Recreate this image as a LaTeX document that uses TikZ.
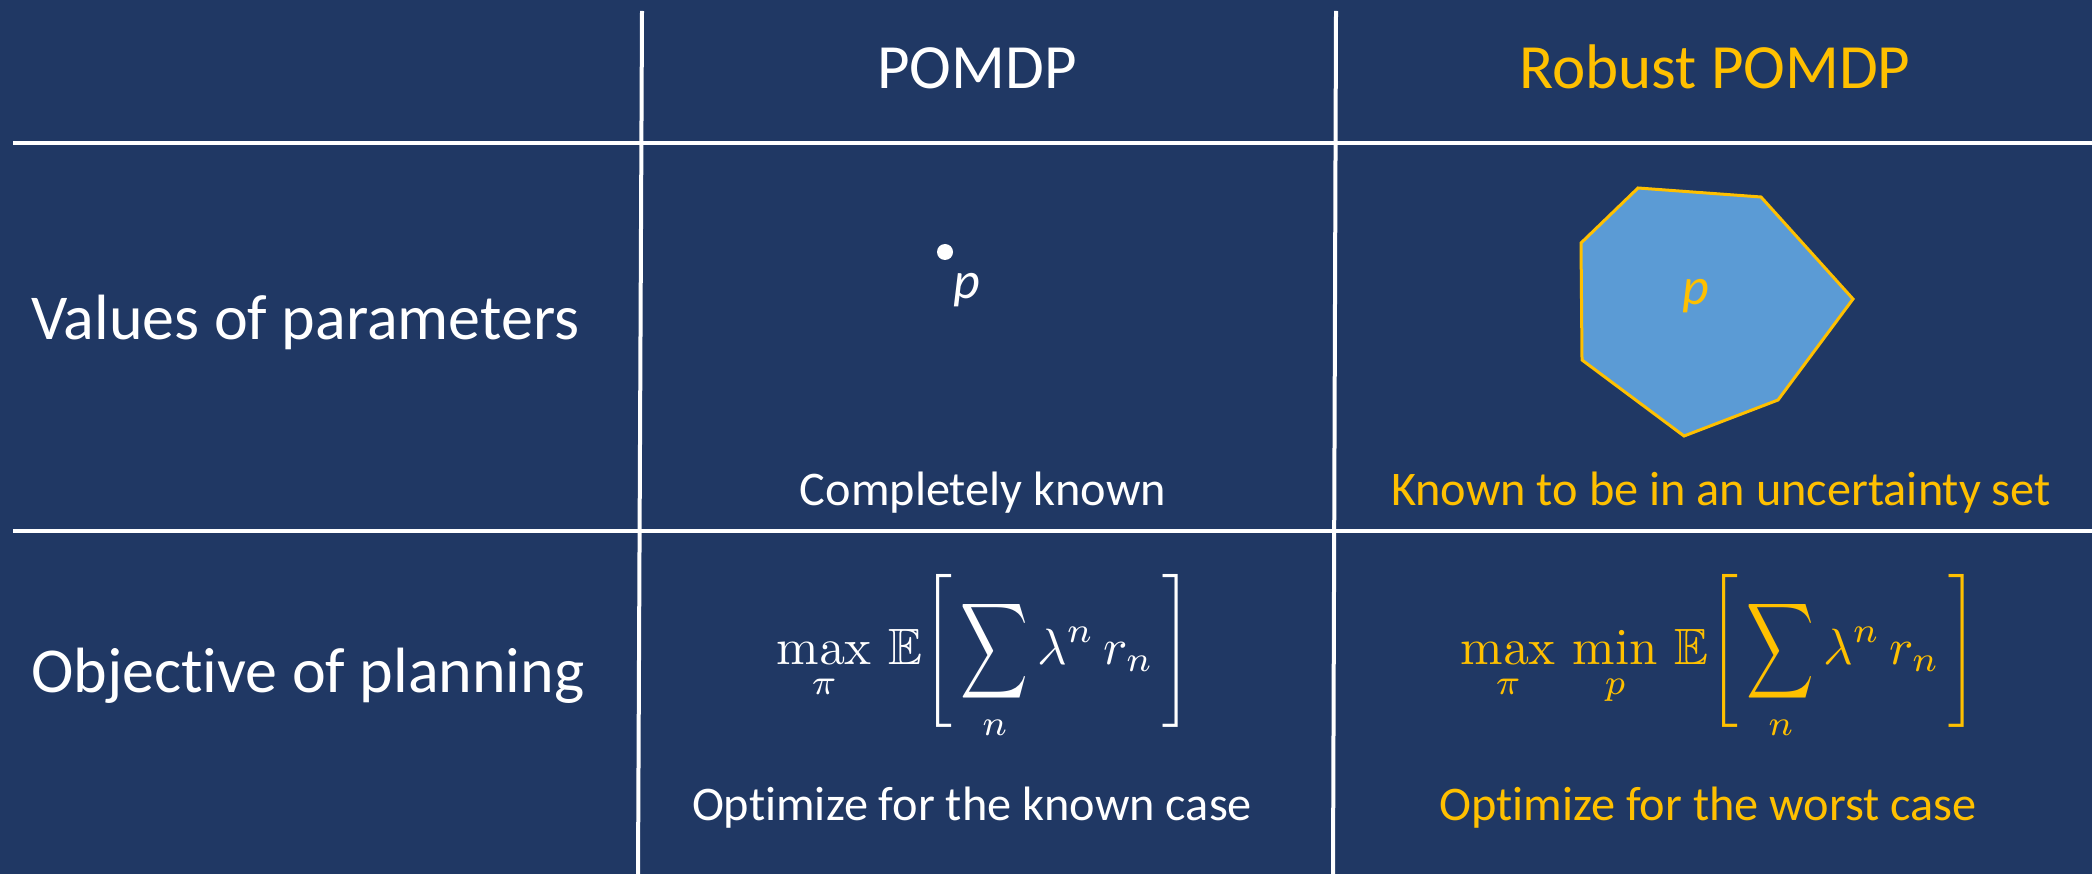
\documentclass[tikz,border=0pt]{standalone}
\usepackage{amsmath,amssymb}
\usepackage{graphicx}
\usepackage[no-math]{fontspec}
\setmainfont{Carlito}[Ligatures=NoCommon]
\definecolor{bg}{RGB}{32,56,100}
\definecolor{gold}{RGB}{255,192,0}
\definecolor{polyblue}{RGB}{91,155,213}
\newcommand{\tallsum}{\mathop{\vcenter{\hbox{\scalebox{0.92}[1.31]{$\displaystyle\sum$}}}}\displaylimits}
\tikzset{
  grid line/.style={draw=white, line width=4pt},
  headtext/.style={text=white, font=\fontsize{63}{74}\selectfont, inner sep=0pt, anchor=base},
  rowtext/.style={text=white, font=\fontsize{64}{76}\selectfont, inner sep=0pt, anchor=base west},
  celltext/.style={text=white, font=\fontsize{48.3}{58}\selectfont, inner sep=0pt, anchor=base},
  ptext/.style={text=white, font=\fontsize{52}{62}\selectfont, inner sep=0pt, anchor=base},
  formula/.style={text=white, inner sep=0pt, anchor=base},
  goldtext/.style={text=gold}
}
\begin{document}
\begin{tikzpicture}[x=1pt,y=-1pt]
\fill[bg] (0,0) rectangle (2092,874);
\useasboundingbox (0,0) rectangle (2092,874);
% grid
\draw[grid line] (13,143) -- (2092,143);
\draw[grid line] (13,531) -- (2092,531);
\draw[grid line] (642,11) -- (638,874);
\draw[grid line] (1336,11) -- (1333,874);
% headers
\node[headtext] (h1) at (977,89) {POMDP};
\node[headtext,goldtext] (h2) at (1715,89) {Robust POMDP};
\node[rowtext] (r1) at (31,340) {Values of parameters};
\node[rowtext] (r2) at (31,692) {Objective of planning};
% POMDP values
\fill[white] (945,252) circle (8);
\node[ptext] (p1) at (967,299) {\itshape p};
\node[celltext] (c1) at (983,505) {Completely known};
% robust values
\path[fill=polyblue, draw=gold, line width=3pt, line join=miter]
  (1638,188) -- (1761,197) -- (1853,299) -- (1778,400) -- (1684,436) -- (1582,360) -- (1581,243) -- cycle;
\node[ptext,goldtext] (p2) at (1696,305) {\itshape p};
\node[celltext,goldtext] (c2) at (1721,505) {Known to be in an uncertainty set};
% objectives
\node[formula] (f1) at (984.5,664) {\scalebox{5.1}{$\displaystyle \max_{\pi}\,\mathbb{E}\Biggl[\,\tallsum_{n}\lambda^{n}\,r_{n}\,\Biggr]$}};
\node[formula,goldtext] (f2) at (1719.5,664) {\scalebox{5.1}{$\displaystyle \max_{\pi}\,\min_{p}\,\mathbb{E}\Biggl[\,\tallsum_{n}\lambda^{n}\,r_{n}\,\Biggr]$}};
\node[celltext] (o1) at (972,820) {Optimize for the known case};
\node[celltext,goldtext] (o2) at (1708,820) {Optimize for the worst case};
\end{tikzpicture}
\end{document}
